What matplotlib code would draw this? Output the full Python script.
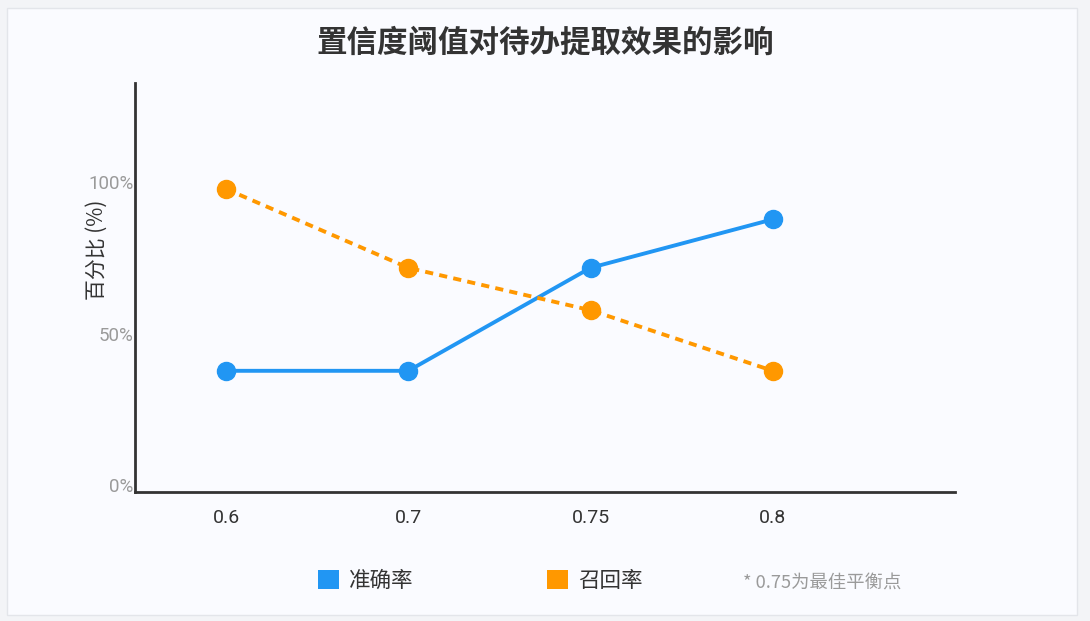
import matplotlib.pyplot as plt
from matplotlib.patches import Rectangle, Patch

plt.rcParams['font.family'] = ['Noto Sans CJK SC', 'DejaVu Sans']

# data
thresholds = ['0.6', '0.7', '0.75', '0.8']
precision = [40, 40, 74, 90]
recall = [100, 74, 60, 40]
y_ticks = [0, 50, 100]
y_tick_labels = ['0%', '50%', '100%']

blue = '#2196F3'
orange = '#FF9800'

fig = plt.figure(figsize=(10.9, 6.21), dpi=100)
fig.patch.set_facecolor('#f3f4f7')
# card background
fig.patches.append(Rectangle((7 / 1090, 1 - 615 / 621), 1070 / 1090, 607 / 621,
                             transform=fig.transFigure, facecolor='#fafbff',
                             edgecolor='#e3e5ea', linewidth=1, zorder=-10))

ax = fig.add_axes([135 / 1090, 1 - 492 / 621, 820 / 1090, 409 / 621])
ax.set_facecolor('none')

x = range(len(thresholds))
ax.plot(x, precision, color=blue, lw=2.8, marker='o', markersize=13,
        solid_capstyle='round', zorder=3)
ax.plot(x, recall, color=orange, lw=2.8, ls=(0, (2.1, 1.6)), marker='o',
        markersize=13, zorder=3)

ax.set_xlim(-0.5, 4.0)
ax.set_ylim(0, 135)
ax.set_xticks(list(x))
ax.set_xticklabels(thresholds, fontsize=14, color='#333333', family='Roboto')
ax.set_yticks(y_ticks)
ax.set_yticklabels(y_tick_labels, fontsize=13.5, color='#9a9a9a', va='baseline',
                   family='Roboto')
ax.tick_params(axis='x', length=0, pad=12)
ax.tick_params(axis='y', length=0, pad=1)

for s in ['top', 'right']:
    ax.spines[s].set_visible(False)
for s in ['left', 'bottom']:
    ax.spines[s].set_color('#333333')
    ax.spines[s].set_linewidth(2)

fig.text(545 / 1090, 1 - 43 / 621, '置信度阈值对待办提取效果的影响', ha='center',
         va='center', fontsize=22, fontweight='bold', color='#333333')
fig.text(97 / 1090, 1 - 250 / 621, '百分比 (%)', rotation=90, ha='center',
         va='center', fontsize=15, color='#333333')

handles = [Patch(facecolor=blue, label='准确率'), Patch(facecolor=orange, label='召回率')]
fig.legend(handles=handles, loc='center', bbox_to_anchor=(480 / 1090, 1 - 581 / 621),
           ncol=2, frameon=False, fontsize=15.5, handlelength=1.0, handleheight=1.0,
           handletextpad=0.45, columnspacing=6.2, labelcolor='#333333')
fig.text(743 / 1090, 1 - 583 / 621, '* 0.75为最佳平衡点', ha='left', va='center',
         fontsize=13.2, color='#9a9a9a')

fig.savefig('out.png', dpi=100, facecolor=fig.get_facecolor())
